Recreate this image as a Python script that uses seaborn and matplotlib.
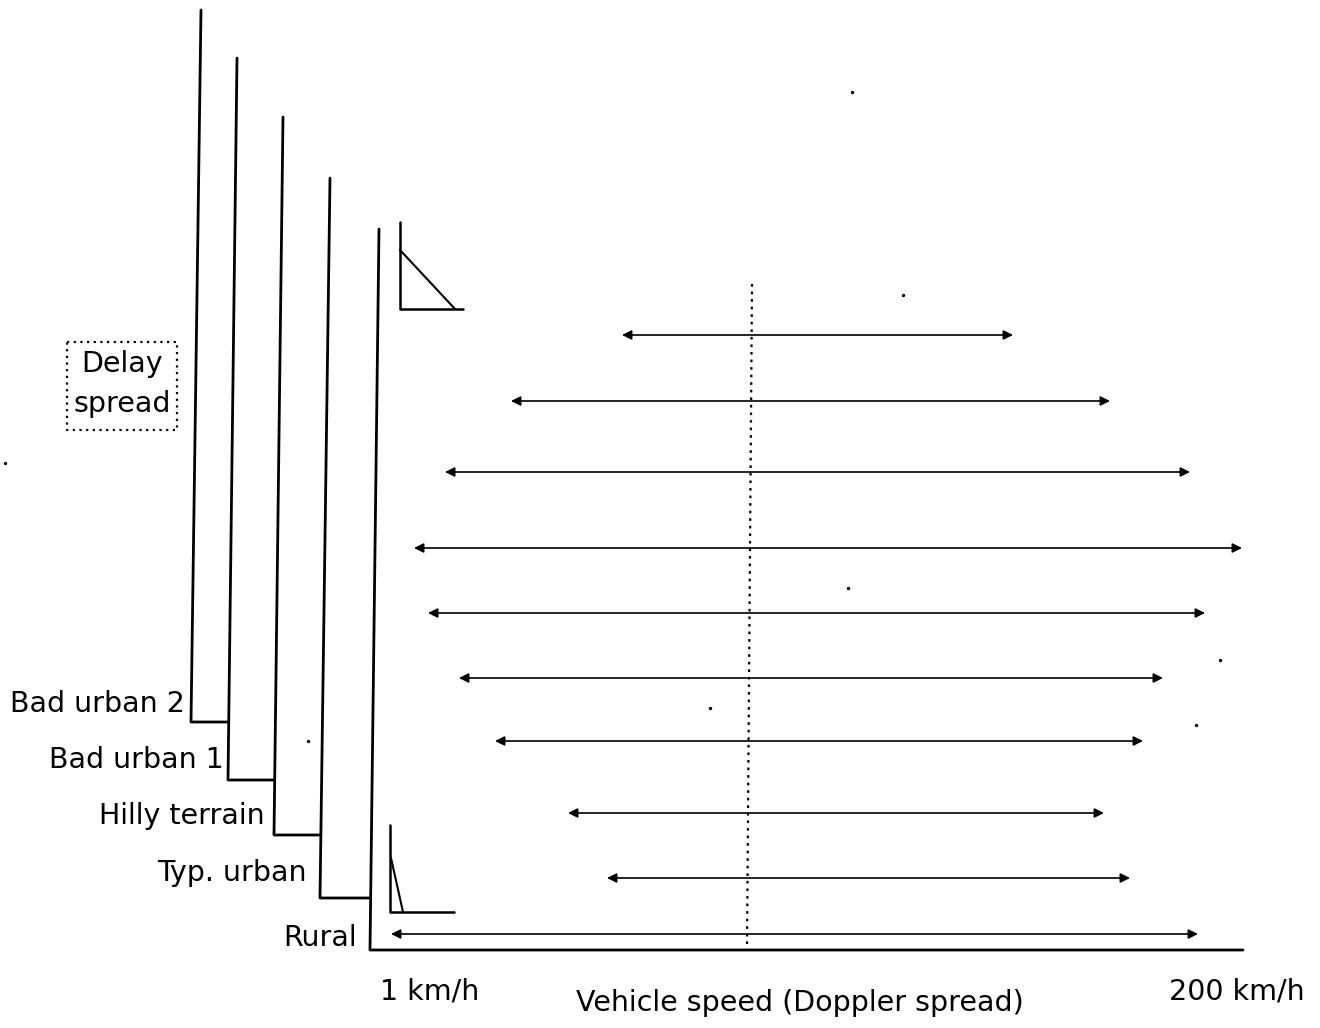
import numpy as np
import matplotlib.pyplot as plt
import pandas as pd
import seaborn as sns

# Environments (stair-step delay spread lines), schematic pixel coordinates
env_names = ['Bad urban 2', 'Bad urban 1', 'Hilly terrain', 'Typ. urban', 'Rural']
env_top_x = [201, 237, 283, 330, 379]
env_top_y = [10, 58, 117, 178, 229]
env_bot_x = [191, 228, 274, 320, 370]
env_bot_y = [722, 780, 835, 898, 950]
label_x = [185, 224, 265, 307, 357]
label_y = [704, 760, 816, 873, 938]

# Vehicle speed ranges (double arrows)
row_y = [335, 401, 472, 548, 613, 678, 741, 813, 878, 934]
speed_lo = [622, 511, 445, 414, 428, 459, 495, 568, 607, 391]
speed_hi = [1013, 1110, 1190, 1242, 1205, 1163, 1143, 1104, 1130, 1198]

axis_end_x = 1243
mid_x_top, mid_x_bot = 752, 747
mid_y_top = 284

# scan specks
speck_x = [852, 903, 848, 710, 1220, 1196, 308, 5]
speck_y = [92, 295, 588, 708, 660, 725, 741, 463]

sns.set_style('white')
plt.rcParams['font.family'] = ['DejaVu Sans']
plt.rcParams['text.color'] = 'black'

fs = 20.5

fig = plt.figure(figsize=(13.2, 10.28), dpi=100)
ax = fig.add_axes([0, 0, 1, 1])
ax.set_xlim(0, 1320)
ax.set_ylim(1028, 0)
ax.axis('off')

lw = 2.0
# stair lines: vertical of each env, then horizontal step to next env
for i in range(len(env_names)):
    if i < len(env_names) - 1:
        xs = [env_top_x[i], env_bot_x[i], env_bot_x[i + 1]]
        ys = [env_top_y[i], env_bot_y[i], env_bot_y[i]]
    else:
        xs = [env_top_x[i], env_bot_x[i], axis_end_x]
        ys = [env_top_y[i], env_bot_y[i], env_bot_y[i]]
    seg = pd.DataFrame({'x': xs, 'y': ys})
    sns.lineplot(data=seg, x='x', y='y', sort=False, ax=ax, color='black',
                 lw=lw, estimator=None)
    ax.text(label_x[i], label_y[i], env_names[i], ha='right', va='center',
            fontsize=fs, color='black')

# impulse response icons
icon_top = pd.DataFrame({'x': [400, 400, 463], 'y': [222, 309, 309]})
sns.lineplot(data=icon_top, x='x', y='y', sort=False, ax=ax, color='black', lw=1.8, estimator=None)
ax.plot([400, 455], [250, 309], color='black', lw=1.5)
icon_bot = pd.DataFrame({'x': [390, 390, 454], 'y': [825, 912, 912]})
sns.lineplot(data=icon_bot, x='x', y='y', sort=False, ax=ax, color='black', lw=1.8, estimator=None)
ax.plot([391, 403], [858, 912], color='black', lw=1.5)

# speed arrows
for y, lo, hi in zip(row_y, speed_lo, speed_hi):
    ax.annotate('', xy=(lo, y), xytext=(hi, y),
                arrowprops=dict(arrowstyle='<|-|>', color='black', lw=1.2,
                                mutation_scale=14, shrinkA=0, shrinkB=0))

# dotted mid line
ax.plot([mid_x_top, mid_x_bot], [mid_y_top, env_bot_y[-1]], color='black',
        lw=1.6, ls=(0, (1.2, 2.2)))

# delay spread box
ax.plot([67, 177, 177, 67, 67], [342, 342, 430, 430, 342], color='black',
        lw=1.6, ls=(0, (1, 2)))
ax.text(122, 364, 'Delay', ha='center', va='center', fontsize=fs, color='black')
ax.text(122, 404, 'spread', ha='center', va='center', fontsize=fs, color='black')

ax.scatter(speck_x, speck_y, s=2, color='black')

ax.text(430, 992, '1 km/h', ha='center', va='center', fontsize=fs, color='black')
ax.text(800, 1003, 'Vehicle speed (Doppler spread)', ha='center', va='center',
        fontsize=fs, color='black')
ax.text(1237, 991, '200 km/h', ha='center', va='center', fontsize=fs, color='black')

fig.savefig('out.png', dpi=100)
